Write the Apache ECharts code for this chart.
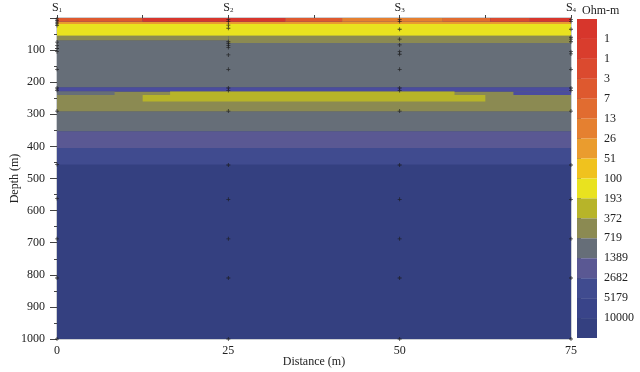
<!DOCTYPE html>
<html>
<head>
<meta charset="utf-8">
<script src="https://cdn.jsdelivr.net/npm/echarts@6/dist/echarts.min.js"></script>
<style>html,body{margin:0;padding:0;background:#fff}#c{width:640px;height:372px}</style>
</head>
<body>
<div id="c"></div>
<script>
// Resistivity class colours (top = lowest resistivity); last entry = thin blue stripe colour
const classColors = ['#d7362c','#d93d2d','#db4a2f','#de592f','#e16c30','#e58030','#ea9c2e','#f0c21e',
  '#e9e21f','#b7b429','#8b8a52','#666e78','#5a5893','#404b8f','#394489','#344080','#4b4c9e'];
const scaleLabels = ['1','1','3','7','13','26','51','100','193','372','719','1389','2682','5179','10000'];
const soundingNames = ['1','2','3','4'];
const soundingX = [0, 25, 50, 75];

// Layers: x-start, x-end, depth top, depth bottom, colour class
const layerX0 =     [0,   0,   0,   0,   0,   0,   0,  0,   16.5, 12.5, 66.6, 0,  25, 0,  0,  0,    12.5, 33.3, 41.6, 56.3, 63.2, 69];
const layerX1 =     [75,  75,  75,  75,  75,  75,  75, 8.4, 58,   62.5, 75,   25, 75, 75, 75, 12.5, 33.3, 41.6, 56.3, 63.2, 69,   75];
const layerTop =    [0,   405, 353, 291, 229, 216, 70, 229, 229,  240,  229,  55, 55, 19, 12, 0,    0,    0,    0,    0,    0,    0];
const layerBottom = [1000,456, 405, 353, 291, 229, 216,240, 240,  260,  240,  70, 78, 55, 19, 12,   12,   12,   12,   12,   12,   12];
const layerClass =  [15,  13,  12,  11,  10,  16,  11, 11,  9,    9,    16,   10, 10, 8,  6,  3,    0,    3,    5,    4,    2,    0];

// Measurement depths at each sounding
const s1Depths = [3, 8, 13, 18, 23, 75, 85, 95, 105, 160, 218, 225, 290, 456, 562, 688, 810, 1000];
const s2Depths = [5, 11, 22, 32, 74, 80, 86, 92, 115, 160, 218, 226, 290, 458, 565, 688, 810, 1000];
const s3Depths = [5, 11, 35, 66, 84, 105, 113, 160, 218, 226, 290, 458, 565, 688, 810, 1000];
const s4Depths = [5, 11, 35, 60, 66, 74, 105, 112, 160, 218, 226, 290, 458, 565, 688, 810, 1000];

const layerData = layerX0.map((x0, i) => [x0, layerX1[i], layerTop[i], layerBottom[i], layerClass[i]]);
const markerData = [];
[s1Depths, s2Depths, s3Depths, s4Depths].forEach((arr, k) => arr.forEach(d => markerData.push([soundingX[k], d])));
const barData = scaleLabels.concat(['']).map((c, i) => [i]);

const serif = 'Liberation Serif';
const chart = echarts.init(document.getElementById('c'));
chart.setOption({
  animation: false,
  textStyle: { fontFamily: serif, color: '#222' },
  grid: [
    { left: 57, right: 69, top: 18, bottom: 33, show: true, borderColor: '#9aa0a8', borderWidth: 1, backgroundColor: 'transparent', outerBoundsMode: 'none', containLabel: false },
    { left: 577, width: 20, top: 19, height: 319, outerBoundsMode: 'none', containLabel: false }
  ],
  graphic: [
    { type: 'text', left: 582, top: 5, style: { text: 'Ohm-m', font: '12px "Liberation Serif"', fill: '#222' } }
  ],
  xAxis: [
    { type: 'value', gridIndex: 0, min: 0, max: 75, interval: 25, position: 'bottom',
      name: 'Distance (m)', nameLocation: 'middle', nameGap: 17, nameMoveOverlap: false,
      nameTextStyle: { fontFamily: serif, fontSize: 12, color: '#222' },
      axisLine: { show: true, lineStyle: { color: '#9aa0a8' } }, axisTick: { show: false },
      axisLabel: { fontFamily: serif, fontSize: 12, color: '#222', margin: 6 }, splitLine: { show: false } },
    { type: 'value', gridIndex: 0, min: 0, max: 75, interval: 12.5, position: 'top',
      axisLine: { show: true, lineStyle: { color: '#888' } },
      axisTick: { show: true, length: 3, lineStyle: { color: '#444' } },
      axisLabel: { margin: 4, fontFamily: serif, fontSize: 12, color: '#222',
        formatter: v => (v % 25 === 0 ? '{s|S}{b|' + soundingNames[v / 25] + '}' : ''),
        rich: { s: { fontFamily: serif, fontSize: 12, color: '#222' },
                b: { fontFamily: serif, fontSize: 7, color: '#222', verticalAlign: 'bottom', padding: [5, 0, 0, 0] } } },
      splitLine: { show: false } },
    { type: 'value', gridIndex: 1, min: 0, max: 1, show: false }
  ],
  yAxis: [
    { type: 'value', gridIndex: 0, min: 0, max: 1000, interval: 100, inverse: true,
      name: 'Depth (m)', nameLocation: 'middle', nameGap: 36, nameMoveOverlap: false,
      nameTextStyle: { fontFamily: serif, fontSize: 12, color: '#222' },
      axisLine: { show: true, lineStyle: { color: '#aab' } },
      axisTick: { show: true, length: 7, lineStyle: { color: '#444' } },
      minorTick: { show: true, splitNumber: 2, length: 3, lineStyle: { color: '#444' } },
      axisLabel: { fontFamily: serif, fontSize: 12, color: '#222', margin: 12, formatter: v => (v === 0 ? '' : v) },
      splitLine: { show: false } },
    { type: 'value', gridIndex: 1, min: 0, max: 16, interval: 1, inverse: true, position: 'right',
      axisLine: { show: false },
      axisTick: { show: true, length: 4, customValues: [1,2,3,4,5,6,7,8,9,10,11,12,13,14,15], lineStyle: { color: '#222', width: 1.5 } },
      axisLabel: { fontFamily: serif, fontSize: 12, color: '#222', margin: 7,
        customValues: [1,2,3,4,5,6,7,8,9,10,11,12,13,14,15], formatter: v => scaleLabels[v - 1] || '' },
      splitLine: { show: false } }
  ],
  series: [
    { type: 'custom', xAxisIndex: 0, yAxisIndex: 0, clip: true, data: layerData,
      encode: { x: [0, 1], y: [2, 3] },
      renderItem: (params, api) => {
        const p0 = api.coord([api.value(0), api.value(2)]);
        const p1 = api.coord([api.value(1), api.value(3)]);
        return { type: 'rect',
          shape: { x: Math.min(p0[0], p1[0]), y: Math.min(p0[1], p1[1]), width: Math.abs(p1[0] - p0[0]), height: Math.abs(p1[1] - p0[1]) },
          style: { fill: classColors[api.value(4)] } };
      } },
    { type: 'scatter', xAxisIndex: 0, yAxisIndex: 0, data: markerData, clip: false,
      symbol: 'path://M2 0H3V2H5V3H3V5H2V3H0V2H2Z', symbolSize: 4, itemStyle: { color: '#1a1a1a' } },
    { type: 'custom', xAxisIndex: 2, yAxisIndex: 1, data: barData,
      renderItem: (params, api) => {
        const i = api.value(0);
        const p0 = api.coord([0, i]);
        const p1 = api.coord([1, i + 1]);
        return { type: 'rect', shape: { x: p0[0], y: p0[1], width: p1[0] - p0[0], height: p1[1] - p0[1] },
          style: { fill: classColors[i] } };
      } }
  ]
});
</script>
</body>
</html>
